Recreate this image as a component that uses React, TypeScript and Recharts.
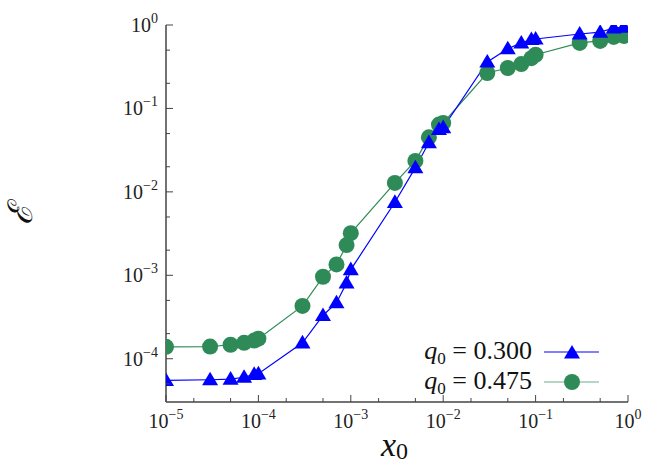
import React from 'react';
import { ComposedChart, Line, XAxis, YAxis } from 'recharts';

// x0 values (same for both curves)
const x0Values = [
  1e-5, 3e-5, 5e-5, 7e-5, 9e-5, 1e-4, 3e-4, 5e-4, 7e-4, 9e-4, 1e-3,
  3e-3, 5e-3, 7e-3, 9e-3, 1e-2, 3e-2, 5e-2, 7e-2, 9e-2, 0.1, 0.3, 0.5, 0.7, 0.9,
];
// q0 = 0.300 (blue triangles)
const epsQ300 = [
  5.5e-5, 5.6e-5, 5.7e-5, 6.0e-5, 6.5e-5, 6.6e-5, 1.55e-4, 3.3e-4, 4.7e-4, 8.1e-4, 1.17e-3,
  7.5e-3, 1.95e-2, 3.9e-2, 5.6e-2, 5.9e-2, 0.36, 0.52, 0.61, 0.67, 0.68, 0.78, 0.82, 0.92, 0.945,
];
// q0 = 0.475 (green circles)
const epsQ475 = [
  1.39e-4, 1.4e-4, 1.47e-4, 1.55e-4, 1.65e-4, 1.74e-4, 4.3e-4, 9.6e-4, 1.35e-3, 2.3e-3, 3.2e-3,
  1.28e-2, 2.35e-2, 4.5e-2, 6.4e-2, 6.7e-2, 0.266, 0.305, 0.34, 0.4, 0.44, 0.61, 0.645, 0.72, 0.74,
];

const xTicks = [
  1e-5, 2e-5, 5e-5, 1e-4, 2e-4, 5e-4, 1e-3, 2e-3, 5e-3, 1e-2, 2e-2, 5e-2, 0.1, 0.2, 0.5, 1,
];
const yTicks = [
  5e-5, 1e-4, 2e-4, 5e-4, 1e-3, 2e-3, 5e-3, 1e-2, 2e-2, 5e-2, 0.1, 0.2, 0.5, 1,
];

const BLUE = '#0000ff';
const GREEN = '#2e8b57';
const AXIS = '#444';
const SERIF = 'Liberation Serif, DejaVu Serif, serif';

const blueData = x0Values.map((x, i) => ({ x, y: epsQ300[i] }));
const greenData = x0Values.map((x, i) => ({ x, y: epsQ475[i] }));

const isMajor = (v: number) => Math.abs(Math.log10(v) - Math.round(Math.log10(v))) < 1e-6;
const expOf = (v: number) => Math.round(Math.log10(v));
const expText = (e: number) => (e < 0 ? '\u2212' + Math.abs(e) : String(e));

const Triangle = ({ cx, cy, s = 8 }: any) => (
  <path d={`M${cx},${cy - s} L${cx + s},${cy + s * 0.7} L${cx - s},${cy + s * 0.7} Z`} fill={BLUE} />
);
const Circle = ({ cx, cy }: any) => <circle cx={cx} cy={cy} r={8} fill={GREEN} />;

const BottomTick = ({ x, y, payload }: any) => {
  const v = payload.value;
  const major = isMajor(v);
  return (
    <g>
      <line x1={x} x2={x} y1={y} y2={y - (major ? 7 : 4)} stroke={AXIS} />
      {major && (
        <text x={x} y={y + 26} textAnchor="middle" style={{ fontFamily: SERIF }} fontSize={20} fill="#222">
          10<tspan dy={-9} fontSize={14}>{expText(expOf(v))}</tspan>
        </text>
      )}
    </g>
  );
};
const TopTick = ({ x, y, payload }: any) => (
  <line x1={x} x2={x} y1={y} y2={y + (isMajor(payload.value) ? 7 : 4)} stroke={AXIS} />
);
const LeftTick = ({ x, y, payload }: any) => {
  const v = payload.value;
  const major = isMajor(v);
  return (
    <g>
      <line x1={x} x2={x + (major ? 7 : 4)} y1={y} y2={y} stroke={AXIS} />
      {major && (
        <text x={x - 8} y={y + 7} textAnchor="end" style={{ fontFamily: SERIF }} fontSize={20} fill="#222">
          10<tspan dy={-9} fontSize={14}>{expText(expOf(v))}</tspan>
        </text>
      )}
    </g>
  );
};
const RightTick = ({ x, y, payload }: any) => (
  <line x1={x} x2={x - (isMajor(payload.value) ? 7 : 4)} y1={y} y2={y} stroke={AXIS} />
);

const XLabel = () => (
  <text x={381} y={456} style={{ fontFamily: SERIF }} fill="#111">
    <tspan fontStyle="italic" fontSize={34}>x</tspan>
    <tspan fontSize={24} dy={3}>0</tspan>
  </text>
);
const YLabel = () => (
  <text
    x={20}
    y={214}
    transform="rotate(-90, 20, 214)"
    textAnchor="middle"
    dominantBaseline="central"
    style={{ fontFamily: 'DejaVu Serif, serif' }}
    fontStyle="italic"
    fontSize={34}
    fill="#111"
  >
    ℰ
  </text>
);

const legendRows = [
  { label: '0.300', color: BLUE, marker: 'tri' },
  { label: '0.475', color: GREEN, marker: 'circ' },
];

const LegendBox = () => (
  <div
    style={{
      position: 'absolute',
      left: 330,
      top: 337,
      width: 280,
      fontFamily: SERIF,
      fontSize: 26,
      color: '#111',
      lineHeight: '30px',
    }}
  >
    {legendRows.map((r) => (
      <div key={r.label} style={{ display: 'flex', alignItems: 'center', justifyContent: 'flex-end', height: 30 }}>
        <span>
          <i>q</i>
          <span style={{ fontSize: 17, position: 'relative', top: 5 }}>0</span> = {r.label}
        </span>
        <svg width={66} height={24} style={{ marginLeft: 12 }}>
          <line x1={0} x2={55} y1={12} y2={12} stroke={r.color} strokeWidth={1.2} opacity={r.marker === 'circ' ? 0.7 : 1} />
          {r.marker === 'tri' ? <Triangle cx={28} cy={13} s={8} /> : <Circle cx={28} cy={12} />}
        </svg>
      </div>
    ))}
  </div>
);

export default function App() {
  return (
    <div style={{ position: 'absolute', left: 0, top: 0, width: 664, height: 466, background: '#fff' }}>
      <ComposedChart width={664} height={466} margin={{ top: 25, right: 36, bottom: 0, left: 0 }}>
        <XAxis
          xAxisId="b"
          dataKey="x"
          type="number"
          scale="log"
          domain={[1e-5, 1]}
          ticks={xTicks}
          interval={0}
          allowDataOverflow
          height={64}
          tickSize={0}
          tickMargin={0}
          tickLine={false}
          tick={<BottomTick />}
          axisLine={{ stroke: AXIS, strokeWidth: 1.5 }}
          label={<XLabel />}
        />
        <XAxis
          xAxisId="t"
          orientation="top"
          dataKey="x"
          type="number"
          scale="log"
          domain={[1e-5, 1]}
          ticks={xTicks}
          interval={0}
          allowDataOverflow
          height={0}
          tickSize={0}
          tickMargin={0}
          tickLine={false}
          tick={<TopTick />}
          axisLine={{ stroke: '#111', strokeWidth: 1.2 }}
        />
        <YAxis
          yAxisId="l"
          dataKey="y"
          type="number"
          scale="log"
          domain={[3.03e-5, 1]}
          ticks={yTicks}
          interval={0}
          allowDataOverflow
          width={166}
          tickSize={0}
          tickMargin={0}
          tickLine={false}
          tick={<LeftTick />}
          axisLine={{ stroke: AXIS, strokeWidth: 1.5 }}
          label={<YLabel />}
        />
        <YAxis
          yAxisId="r"
          orientation="right"
          dataKey="y"
          type="number"
          scale="log"
          domain={[3.03e-5, 1]}
          ticks={yTicks}
          interval={0}
          allowDataOverflow
          width={0}
          tickSize={0}
          tickMargin={0}
          tickLine={false}
          tick={<RightTick />}
          axisLine={{ stroke: '#111', strokeWidth: 1.2 }}
        />
        <Line
          xAxisId="b"
          yAxisId="l"
          data={greenData}
          dataKey="y"
          type="linear"
          stroke={GREEN}
          strokeWidth={1.2}
          dot={(p: any) => <Circle key={'g' + p.index} cx={p.cx} cy={p.cy} />}
          isAnimationActive={false}
        />
        <Line
          xAxisId="b"
          yAxisId="l"
          data={blueData}
          dataKey="y"
          type="linear"
          stroke={BLUE}
          strokeWidth={1.2}
          dot={(p: any) => <Triangle key={'b' + p.index} cx={p.cx} cy={p.cy} />}
          isAnimationActive={false}
        />
      </ComposedChart>
      <LegendBox />
    </div>
  );
}
